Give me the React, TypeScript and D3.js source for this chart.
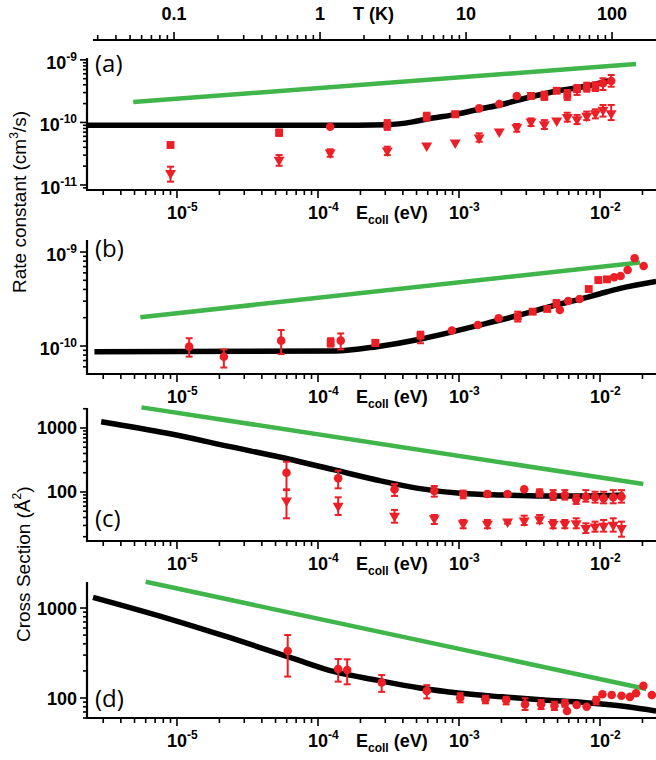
import React, { useEffect, useRef } from 'react';
import * as d3 from 'd3';

const W = 656;
const H = 760;
const RED = '#ec1f26';
const GREEN = '#3fb54a';
const FONT = 'Arial, "Liberation Sans", Helvetica, sans-serif';

// shared axes
const eDomain = [10 ** -5.638, 10 ** -1.603]; // collision energy (eV)
const tDomain = [10 ** -1.555, 10 ** 2.301]; // temperature (K)
const eTickLabels = [1e-5, 1e-4, 1e-3, 1e-2];
const tTickLabels = [0.1, 1, 10, 100];

// points are [E (eV), value, errLow, errHigh]

// (a) rate constant
const aModel = [
  [2.3e-6, 9.0e-11], [1.2e-4, 9.0e-11], [3.1e-4, 9.2e-11], [4.7e-4, 1.02e-10], [5.9e-4, 1.13e-10],
  [9.7e-4, 1.36e-10], [1.41e-3, 1.64e-10], [1.95e-3, 1.9e-10], [3.19e-3, 2.55e-10], [4.96e-3, 3.18e-10],
  [8.09e-3, 3.82e-10], [1.2e-2, 4.76e-10],
];
const aCapture = [[4.9e-6, 2.12e-10], [1.8e-2, 8.6e-10]];
const aSquares = [
  [9.0e-6, 4.36e-11],
  [5.3e-5, 6.85e-11, 6.1e-11, 7.7e-11],
  [3.1e-4, 9.1e-11, 7.6e-11, 1.09e-10],
  [5.9e-4, 1.24e-10, 1.07e-10, 1.43e-10],
  [9.4e-4, 1.35e-10, 1.22e-10, 1.49e-10],
  [3.24e-3, 2.65e-10],
  [4.03e-3, 2.65e-10, 2.29e-10, 3.1e-10],
  [4.93e-3, 3.21e-10],
  [5.86e-3, 2.75e-10, 2.29e-10, 3.3e-10],
  [6.87e-3, 3.39e-10, 2.75e-10, 3.96e-10],
  [8.05e-3, 3.65e-10, 3.1e-10, 4.32e-10],
  [9.27e-3, 3.73e-10, 3.18e-10, 4.39e-10],
];
const aCircles = [
  [1.22e-4, 8.55e-11],
  [1.39e-3, 1.68e-10],
  [1.93e-3, 1.97e-10],
  [2.57e-3, 2.65e-10],
  [1.05e-2, 4.22e-10, 3.3e-10, 5.08e-10],
  [1.2e-2, 4.6e-10, 3.72e-10, 5.73e-10],
];
const aTriangles = [
  [9.0e-6, 1.54e-11, 1.13e-11, 1.96e-11],
  [5.3e-5, 2.51e-11, 2.03e-11, 3.01e-11],
  [1.22e-4, 3.28e-11, 2.83e-11, 3.72e-11],
  [3.1e-4, 3.53e-11, 3.01e-11, 4.09e-11],
  [5.9e-4, 4.25e-11],
  [9.4e-4, 4.74e-11],
  [1.39e-3, 5.7e-11, 4.92e-11, 6.7e-11],
  [1.93e-3, 7.1e-11],
  [2.57e-3, 8.36e-11, 7.11e-11, 9.44e-11],
  [3.24e-3, 1.03e-10, 8.77e-11, 1.16e-10],
  [4.03e-3, 9.3e-11, 7.85e-11, 1.09e-10],
  [4.93e-3, 1.07e-10],
  [5.86e-3, 1.21e-10, 1.03e-10, 1.43e-10],
  [6.87e-3, 1.12e-10, 9.44e-11, 1.32e-10],
  [8.05e-3, 1.27e-10, 1.09e-10, 1.49e-10],
  [9.27e-3, 1.4e-10, 1.16e-10, 1.62e-10],
  [1.05e-2, 1.58e-10, 1.24e-10, 1.9e-10],
  [1.2e-2, 1.4e-10, 1.09e-10, 1.9e-10],
];

// (b) rate constant
const bModel = [
  [2.6e-6, 8.7e-11], [1.32e-4, 8.85e-11], [2.61e-4, 9.84e-11], [5.28e-4, 1.18e-10], [9.06e-4, 1.42e-10],
  [1.57e-3, 1.74e-10], [2.71e-3, 2.14e-10], [4.65e-3, 2.68e-10], [7.21e-3, 3.15e-10], [1.0e-2, 3.6e-10],
  [1.39e-2, 4.1e-10], [2.5e-2, 4.85e-10],
];
const bCapture = [[5.5e-6, 2.02e-10], [1.92e-2, 7.73e-10]];
const bCircles = [
  [1.22e-5, 9.84e-11, 7.7e-11, 1.21e-10],
  [2.15e-5, 7.7e-11, 5.9e-11, 9.2e-11],
  [5.48e-5, 1.14e-10, 8.2e-11, 1.48e-10],
  [1.45e-4, 1.14e-10, 9.2e-11, 1.36e-10],
  [8.9e-4, 1.46e-10],
  [1.36e-3, 1.67e-10],
  [1.91e-3, 1.97e-10],
  [5.19e-3, 2.42e-10],
  [5.95e-3, 3.01e-10],
  [7.16e-3, 3.16e-10],
  [1.26e-2, 5.38e-10],
  [1.4e-2, 5.56e-10],
  [1.57e-2, 6.44e-10],
  [1.76e-2, 8.57e-10],
  [2.04e-2, 7.1e-10],
];
const bSquares = [
  [1.23e-4, 1.08e-10, 9.84e-11, 1.21e-10],
  [2.55e-4, 1.08e-10, 1.0e-10, 1.16e-10],
  [5.33e-4, 1.29e-10, 1.07e-10, 1.42e-10],
  [2.61e-3, 2.05e-10, 1.82e-10, 2.32e-10],
  [3.33e-3, 2.32e-10],
  [4.23e-3, 2.48e-10],
  [4.91e-3, 2.85e-10, 2.62e-10, 3.08e-10],
  [8.32e-3, 4.04e-10],
  [9.73e-3, 5.03e-10],
  [1.12e-2, 5.12e-10],
];

// (c) cross section
const cModel = [
  [2.9e-6, 1250], [8.55e-6, 826], [2.38e-5, 511], [6.64e-5, 316], [1.31e-4, 221], [2.61e-4, 154],
  [5.15e-4, 114], [1.02e-3, 95.5], [2.02e-3, 89.7], [4.01e-3, 86.7], [7.93e-3, 86.7], [1.47e-2, 89.7],
];
const cCapture = [[5.6e-6, 2100], [2.03e-2, 133]];
const cCircles = [
  [5.98e-5, 200, 107, 297],
  [1.39e-4, 164, 114, 215],
  [3.49e-4, 110, 86.7, 133],
  [6.68e-4, 104, 84.5, 124],
  [1.07e-3, 93, 79.6, 105],
  [1.59e-3, 93, 84.5, 101],
  [2.21e-3, 93, 86, 100],
  [2.9e-3, 110],
  [3.73e-3, 97.5, 84.5, 110],
  [4.65e-3, 89.7, 75, 107],
  [5.63e-3, 89.7, 76, 107],
  [6.78e-3, 76.9, 65, 89.7],
  [7.93e-3, 84.5, 70.6, 107],
  [9.22e-3, 82.6, 68.1, 101],
  [1.06e-2, 79.6, 66.5, 101],
  [1.24e-2, 82.6, 66.5, 107],
  [1.42e-2, 84.5, 68.1, 107],
];
const cTriangles = [
  [5.98e-5, 73.1, 38.8, 110],
  [1.39e-4, 60.4, 43.7, 82.6],
  [3.49e-4, 42.2, 33.1, 52.4],
  [6.68e-4, 38.8, 31.6, 43.7],
  [1.07e-3, 32.4, 27.1, 36.5],
  [1.59e-3, 31.6, 27.1, 36.5],
  [2.21e-3, 34.4, 32, 36.5],
  [2.9e-3, 35.6, 30.5, 42.7],
  [3.73e-3, 37.4, 32.4, 43.7],
  [4.65e-3, 31.3, 27.1, 36.5],
  [5.63e-3, 31.6, 27.1, 36.5],
  [6.78e-3, 32.4, 27.1, 38.8],
  [7.93e-3, 27.1, 22.9, 32.4],
  [9.22e-3, 28.7, 24, 34.4],
  [1.06e-2, 29.4, 24, 36.5],
  [1.24e-2, 30.5, 24, 38.8],
  [1.42e-2, 27.1, 20, 34.4],
];

// (d) cross section
const dModel = [
  [2.54e-6, 1315], [8.55e-6, 769], [2.38e-5, 468], [6.64e-5, 276], [1.31e-4, 196], [2.61e-4, 158],
  [5.15e-4, 130], [1.02e-3, 113], [2.02e-3, 103], [4.0e-3, 95], [7.93e-3, 88.7], [1.57e-2, 80], [2.5e-2, 71.8],
];
const dCapture = [[6.0e-6, 1958], [2.13e-2, 126]];
const dCircles = [
  [6.1e-5, 333, 173, 501],
  [1.39e-4, 210, 152, 271],
  [1.61e-4, 205, 142, 269],
  [2.83e-4, 149, 117, 180],
  [5.91e-4, 120, 99, 139],
  [1.02e-3, 101, 89.5, 113],
  [1.54e-3, 96.8, 87.3, 106],
  [2.16e-3, 95, 85, 103],
  [2.94e-3, 85, 73.6, 99.3],
  [3.82e-3, 85, 75.5, 95],
  [4.75e-3, 82, 73.6, 91],
  [5.64e-3, 87, 80, 95],
  [5.83e-3, 71.8],
  [6.83e-3, 83.5],
  [8.04e-3, 80],
  [9.4e-3, 95, 85, 103],
  [1.04e-2, 110],
  [1.21e-2, 108],
  [1.42e-2, 106],
  [1.63e-2, 103],
  [1.8e-2, 113],
  [2.03e-2, 137],
  [2.33e-2, 108],
];

const panels = [
  { label: '(a)', top: 58, bottom: 190, labelY: 72, yDomain: [10 ** -11.08, 10 ** -8.97], yLabels: [1e-11, 1e-10, 1e-9], exp: true,
    model: aModel, capture: aCapture, series: [[aSquares, 'square'], [aCircles, 'circle'], [aTriangles, 'triangle']] },
  { label: '(b)', top: 240, bottom: 374, labelY: 257, yDomain: [10 ** -10.298, 10 ** -8.872], yLabels: [1e-10, 1e-9], exp: true,
    model: bModel, capture: bCapture, series: [[bSquares, 'square'], [bCircles, 'circle']] },
  { label: '(c)', top: 408, bottom: 541, labelY: 527, yDomain: [10 ** 1.234, 10 ** 3.3125], yLabels: [100, 1000], exp: false,
    model: cModel, capture: cCapture, series: [[cCircles, 'circle'], [cTriangles, 'triangle']] },
  { label: '(d)', top: 582, bottom: 718, labelY: 707, yDomain: [10 ** 1.778, 10 ** 3.289], yLabels: [100, 1000], exp: false,
    model: dModel, capture: dCapture, series: [[dCircles, 'circle']] },
];

const isDecade = (t: number) => Math.abs(Math.log10(t) - Math.round(Math.log10(t))) < 1e-6;

const App = () => {
  const svgRef = useRef<SVGSVGElement>(null);

  useEffect(() => {
    const svg = d3.select(svgRef.current);
    svg.selectAll('*').remove();
    svg.style('font-family', FONT);

    const x = d3.scaleLog().domain(eDomain).range([87, W]);
    const xT = d3.scaleLog().domain(tDomain).range([93, W]);

    // top temperature axis
    const top = svg.append('g');
    top.append('line').attr('x1', 93).attr('x2', W).attr('y1', 40).attr('y2', 40)
      .attr('stroke', '#000').attr('stroke-width', 2);
    xT.ticks().forEach(t => {
      top.append('line').attr('x1', xT(t)).attr('x2', xT(t)).attr('y1', 40).attr('y2', isDecade(t) ? 32 : 35)
        .attr('stroke', '#000').attr('stroke-width', 1.6);
    });
    tTickLabels.forEach(t => {
      top.append('text').attr('x', xT(t)).attr('y', 20).attr('text-anchor', 'middle')
        .attr('font-size', 18).attr('font-weight', 'bold').text(String(t));
    });
    top.append('text').attr('x', 353).attr('y', 20).attr('font-size', 18).attr('font-weight', 'bold').text('T (K)');

    panels.forEach(p => {
      const g = svg.append('g');
      const y = d3.scaleLog().domain(p.yDomain).range([p.bottom, p.top]);

      // left axis
      g.append('line').attr('x1', 87).attr('x2', 87).attr('y1', p.top).attr('y2', p.bottom + 1)
        .attr('stroke', '#000').attr('stroke-width', 2.2);
      y.ticks().forEach(t => {
        g.append('line').attr('x1', 87).attr('x2', isDecade(t) ? 80 : 83).attr('y1', y(t)).attr('y2', y(t))
          .attr('stroke', '#000').attr('stroke-width', 1.6);
      });
      p.yLabels.forEach(t => {
        const txt = g.append('text').attr('x', 77).attr('text-anchor', 'end').attr('font-weight', 'bold');
        if (p.exp) {
          txt.attr('y', y(t) + 9);
          txt.append('tspan').attr('font-size', 18).text('10');
          txt.append('tspan').attr('font-size', 12).attr('dy', -8).text(String(Math.round(Math.log10(t))));
        } else {
          txt.attr('y', y(t) + 6.5).attr('font-size', 18).text(String(t));
        }
      });

      // bottom axis
      g.append('line').attr('x1', 86).attr('x2', W).attr('y1', p.bottom).attr('y2', p.bottom)
        .attr('stroke', '#000').attr('stroke-width', 2.2);
      x.ticks().forEach(t => {
        g.append('line').attr('x1', x(t)).attr('x2', x(t)).attr('y1', p.bottom).attr('y2', p.bottom + (isDecade(t) ? 8 : 5))
          .attr('stroke', '#000').attr('stroke-width', 1.6);
      });
      const base = p.bottom + 28.5;
      eTickLabels.forEach(t => {
        g.append('text').attr('x', x(t)).attr('y', base).attr('text-anchor', 'middle')
          .attr('font-size', 18).attr('font-weight', 'bold').text('10');
        g.append('text').attr('x', x(t) + 10).attr('y', base - 8)
          .attr('font-size', 12).attr('font-weight', 'bold').text(String(Math.round(Math.log10(t))));
      });
      const el = g.append('text').attr('x', 356).attr('y', base).attr('font-weight', 'bold');
      el.append('tspan').attr('font-size', 18).text('E');
      el.append('tspan').attr('font-size', 12).attr('dy', 5).text('coll');
      el.append('tspan').attr('font-size', 18).attr('dy', -5).text(' (eV)');

      // panel label
      g.append('text').attr('x', 95).attr('y', p.labelY).attr('font-family', '"Open Sans", "Noto Sans", sans-serif')
        .attr('font-size', 24).text(p.label);

      const line = d3.line<number[]>().x(d => x(d[0])).y(d => y(d[1]));

      // capture model
      g.append('path').datum(p.capture).attr('d', line).attr('fill', 'none')
        .attr('stroke', GREEN).attr('stroke-width', 4.5);

      // full model
      g.append('path').datum(p.model).attr('d', line.curve(d3.curveMonotoneX)).attr('fill', 'none')
        .attr('stroke', '#000').attr('stroke-width', 5.5);

      // experimental points
      p.series.forEach(([pts, shape]) => {
        (pts as number[][]).forEach(([e, v, lo, hi]) => {
          const cx = x(e);
          const cy = y(v);
          if (lo !== undefined) {
            g.append('line').attr('x1', cx).attr('x2', cx).attr('y1', y(lo)).attr('y2', y(hi))
              .attr('stroke', RED).attr('stroke-width', 2);
            [lo, hi].forEach(b => {
              g.append('line').attr('x1', cx - 3.5).attr('x2', cx + 3.5).attr('y1', y(b)).attr('y2', y(b))
                .attr('stroke', RED).attr('stroke-width', 2);
            });
          }
          let sym;
          if (shape === 'circle') sym = d3.symbol(d3.symbolCircle, 58);
          else if (shape === 'square') sym = d3.symbol(d3.symbolSquare, 62);
          else sym = d3.symbol(d3.symbolTriangle, 52);
          g.append('path').attr('d', sym())
            .attr('transform', `translate(${cx},${cy})${shape === 'triangle' ? ' rotate(180)' : ''}`)
            .attr('fill', RED);
        });
      });
    });

    // y axis titles
    const t1 = svg.append('text').attr('transform', 'translate(26,293) rotate(-90)').attr('font-size', 19);
    t1.append('tspan').text('Rate constant (cm');
    t1.append('tspan').attr('font-size', 12).attr('dy', -8).text('3');
    t1.append('tspan').attr('dy', 8).text('/s)');

    const t2 = svg.append('text').attr('transform', 'translate(30,642) rotate(-90)').attr('font-size', 19);
    t2.append('tspan').text('Cross Section (Å');
    t2.append('tspan').attr('font-size', 12).attr('dy', -9).text('2');
    t2.append('tspan').attr('dy', 9).text(')');
  }, []);

  return (
    <div style={{ position: 'absolute', left: 0, top: 0, width: W, height: H, background: '#fff' }}>
      <svg ref={svgRef} width={W} height={H} style={{ display: 'block' }} />
    </div>
  );
};

export default App;
